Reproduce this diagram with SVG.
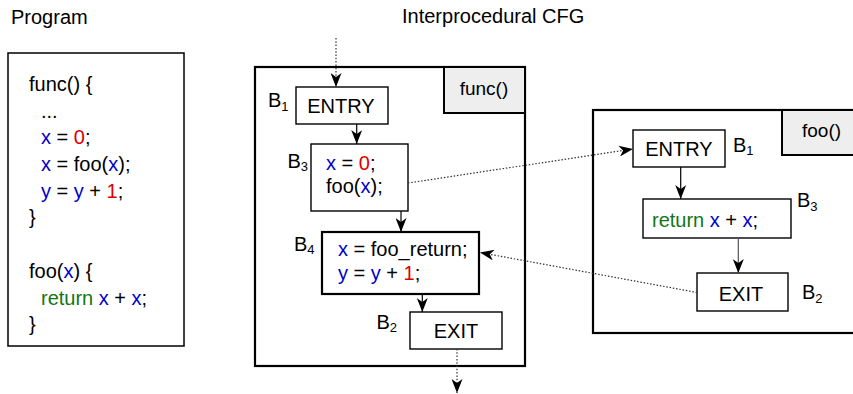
<svg xmlns="http://www.w3.org/2000/svg" width="853" height="394" viewBox="0 0 853 394">
<style>
text{font-family:"Liberation Sans",Arial,sans-serif;font-size:20px;fill:#000}
.sub{font-size:13px}
.b{fill:#0000cc}
.r{fill:#dd0000}
.g{fill:#117711}
.box{fill:#fff;stroke:#000;stroke-width:1.4}
.thick{fill:#fff;stroke:#000;stroke-width:2.2}
.lbl{fill:#eeeeee;stroke:#000;stroke-width:2}
.solid{fill:none;stroke:#000;stroke-width:1.2}
.dot{fill:none;stroke:#333;stroke-width:1.2;stroke-dasharray:1.5 1.8}
.mid{text-anchor:middle}
</style>
<defs>
<marker id="ah" viewBox="0 0 14 11" refX="14" refY="5.5" markerWidth="14" markerHeight="11" markerUnits="userSpaceOnUse" orient="auto">
<path d="M0,0 L14,5.5 L0,11 L4,5.5 Z" fill="#000"/>
</marker>
</defs>
<rect width="853" height="394" fill="#fff"/>
<text x="11" y="24">Program</text>
<text x="402" y="23">Interprocedural CFG</text>

<g id="program">
<rect x="8" y="53" width="176" height="293" fill="#fff" stroke="#000" stroke-width="1.5"/>
<text x="29" y="91">func() {</text>
<text x="41" y="117.5">...</text>
<text x="41" y="144.3"><tspan class="b">x</tspan> = <tspan class="r">0</tspan>;</text>
<text x="41" y="171"><tspan class="b">x</tspan> = foo(<tspan class="b">x</tspan>);</text>
<text x="41" y="197.7"><tspan class="b">y</tspan> = <tspan class="b">y</tspan> + <tspan class="r">1</tspan>;</text>
<text x="29" y="224.4">}</text>
<text x="29" y="277.8">foo(<tspan class="b">x</tspan>) {</text>
<text x="41" y="304.5"><tspan class="g">return</tspan> <tspan class="b">x</tspan> + <tspan class="b">x</tspan>;</text>
<text x="29" y="331.2">}</text>
</g>

<g id="func">
<rect x="255" y="67" width="270" height="299" fill="none" stroke="#000" stroke-width="2.2"/>
<rect x="444" y="67" width="81" height="46" class="lbl"/>
<text x="484" y="95" class="mid" style="font-size:19px">func()</text>
</g>

<g id="foo">
<rect x="593" y="110" width="280" height="223" fill="none" stroke="#000" stroke-width="2.2"/>
<rect x="782" y="110" width="90" height="45" class="lbl"/>
<text x="802" y="137" style="font-size:19px">foo()</text>
</g>

<g id="func_entry">
<rect x="296" y="87" width="92" height="37" class="box"/>
<text x="341" y="113" class="mid">ENTRY</text>
<text x="268" y="106.5">B<tspan class="sub" dy="4">1</tspan></text>
</g>

<g id="func_b3">
<rect x="311" y="144" width="97" height="67" class="box"/>
<text x="326" y="170"><tspan class="b">x</tspan> = <tspan class="r">0</tspan>;</text>
<text x="326" y="193">foo(<tspan class="b">x</tspan>);</text>
<text x="287.5" y="168.3">B<tspan class="sub" dy="3">3</tspan></text>
</g>

<g id="func_b4">
<rect x="322" y="232" width="157" height="62" class="thick"/>
<text x="338" y="256"><tspan class="b">x</tspan> = foo_return;</text>
<text x="338" y="280"><tspan class="b">y</tspan> = <tspan class="b">y</tspan> + <tspan class="r">1</tspan>;</text>
<text x="294" y="251">B<tspan class="sub" dy="3">4</tspan></text>
</g>

<g id="func_exit">
<rect x="410" y="312" width="92" height="37" class="box"/>
<text x="456" y="338" class="mid">EXIT</text>
<text x="376.5" y="329.3">B<tspan class="sub" dy="3">2</tspan></text>
</g>

<g id="foo_entry">
<rect x="633" y="130" width="92" height="37" class="box"/>
<text x="679" y="156" class="mid">ENTRY</text>
<text x="733" y="151.7">B<tspan class="sub" dy="3.5">1</tspan></text>
</g>

<g id="foo_b3">
<rect x="643" y="199" width="148" height="39" class="box"/>
<text x="652" y="226.7"><tspan class="g">return</tspan> <tspan class="b">x</tspan> + <tspan class="b">x</tspan>;</text>
<text x="797" y="207.3">B<tspan class="sub" dy="4">3</tspan></text>
</g>

<g id="foo_exit">
<rect x="697" y="273" width="91" height="38" class="box"/>
<text x="741" y="300.5" class="mid">EXIT</text>
<text x="802" y="299">B<tspan class="sub" dy="3.5">2</tspan></text>
</g>

<g id="connectors">
<line x1="336" y1="38" x2="336" y2="87" class="dot" marker-end="url(#ah)"/>
<line x1="356.7" y1="124" x2="356.7" y2="144" class="solid" marker-end="url(#ah)"/>
<line x1="401" y1="211" x2="401" y2="232" class="solid" marker-end="url(#ah)"/>
<line x1="422.3" y1="294" x2="422.3" y2="312" class="solid" marker-end="url(#ah)"/>
<line x1="457" y1="349" x2="457" y2="393" class="dot" marker-end="url(#ah)"/>
<line x1="408" y1="183" x2="633" y2="149" class="dot" marker-end="url(#ah)"/>
<line x1="680.7" y1="167" x2="680.7" y2="199" class="solid" marker-end="url(#ah)"/>
<line x1="738.3" y1="238" x2="738.3" y2="273" class="solid" style="stroke:#555" marker-end="url(#ah)"/>
<line x1="697" y1="292.5" x2="480" y2="252.5" class="dot" marker-end="url(#ah)"/>
</g>
</svg>
